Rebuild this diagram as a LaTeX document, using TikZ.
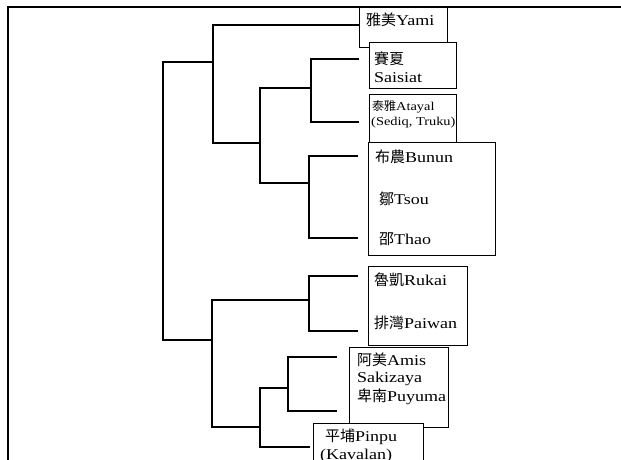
\documentclass[tikz,border=0pt]{standalone}
\usepackage{fontspec}
\setmainfont{Liberation Serif}[FakeStretch=1.2]
\newfontfamily\cjk{Noto Sans CJK TC}
\begin{document}
\begin{tikzpicture}[x=1pt,y=-1pt,
  tree/.style={line width=1.1pt, black},
  box/.style={draw, line width=1.4pt, fill=white},
  lab/.style={anchor=west, inner sep=0pt, font=\fontsize{15}{17}\selectfont},
  small/.style={anchor=west, inner sep=0pt, font=\fontsize{12}{14}\selectfont}]
\clip (0,0) rectangle (621,460);
\fill[white] (0,0) rectangle (621,460);
% frame
\coordinate (fTL) at (8,7);
\coordinate (fTR) at (621,7);
\coordinate (fBL) at (8,460);
\draw[line width=1.5pt] (fTR) -- (fTL) -- (fBL);
% leaf endpoints
\coordinate (lYami) at (359,25);
\coordinate (lSai) at (359,59);
\coordinate (lAta) at (359,122);
\coordinate (lBun) at (358,156);
\coordinate (lTha) at (358,238);
\coordinate (lRuk) at (358,276);
\coordinate (lPai) at (358,331);
\coordinate (lAmi) at (337,357);
\coordinate (lPuy) at (337,411);
\coordinate (lPin) at (310,447);
% internal nodes
\coordinate (nSA) at (311,88);
\coordinate (nBT) at (309,183);
\coordinate (nAB) at (260,143);
\coordinate (nUp) at (213,62);
\coordinate (nRP) at (309,300);
\coordinate (nAm) at (288,388);
\coordinate (nAP) at (260,427);
\coordinate (nLo) at (212,340);
\coordinate (root) at (163,200);
% tree
\draw[tree] (lSai) -| (nSA) |- (lAta);
\draw[tree] (lBun) -| (nBT) |- (lTha);
\draw[tree] (nSA) -| (nAB) |- (nBT);
\draw[tree] (lYami) -| (nUp) |- (nAB);
\draw[tree] (lRuk) -| (nRP) |- (lPai);
\draw[tree] (lAmi) -| (nAm) |- (lPuy);
\draw[tree] (nAm) -| (nAP) |- (lPin);
\draw[tree] (nRP) -| (nLo) |- (nAP);
\draw[tree] (nUp) -| (root) |- (nLo);
% boxes
\node[box, minimum width=88pt, minimum height=40pt, anchor=north west] (bYami) at (359,7) {};
\node[box, minimum width=87pt, minimum height=46pt, anchor=north west] (bSai) at (369,42) {};
\node[box, minimum width=87pt, minimum height=52pt, anchor=north west] (bAta) at (369,94) {};
\node[box, minimum width=127pt, minimum height=113pt, anchor=north west] (bBun) at (368,142) {};
\node[box, minimum width=99pt, minimum height=79pt, anchor=north west] (bRuk) at (368,266) {};
\node[box, minimum width=99pt, minimum height=80pt, anchor=north west] (bAmi) at (349,347) {};
\node[box, minimum width=110pt, minimum height=50pt, anchor=north west] (bPin) at (313,423) {};
% labels
\node[lab] (tYami) at (366,20) {{\cjk 雅美}Yami};
\node[lab] (tSai1) at (374,59) {{\cjk 賽夏}};
\node[lab] (tSai2) at (374,78) {Saisiat};
\node[small] (tAta1) at (372,107) {{\cjk 泰雅}Atayal};
\node[small] (tAta2) at (371,123) {(Sediq, Truku)};
\node[lab] (tBun) at (375,157) {{\cjk 布農}Bunun};
\node[lab] (tTso) at (379,199) {{\cjk 鄒}Tsou};
\node[lab] (tTha) at (379,239) {{\cjk 邵}Thao};
\node[lab] (tRuk) at (374,280) {{\cjk 魯凱}Rukai};
\node[lab] (tPai) at (374,323) {{\cjk 排灣}Paiwan};
\node[lab] (tAmi) at (357,360) {{\cjk 阿美}Amis};
\node[lab] (tSak) at (357,379) {Sakizaya};
\node[lab] (tPuy) at (357,397) {{\cjk 卑南}Puyuma};
\node[lab] (tPin) at (325,437) {{\cjk 平埔}Pinpu};
\node[lab] (tKav) at (320,456) {(Kavalan)};
\end{tikzpicture}
\end{document}
